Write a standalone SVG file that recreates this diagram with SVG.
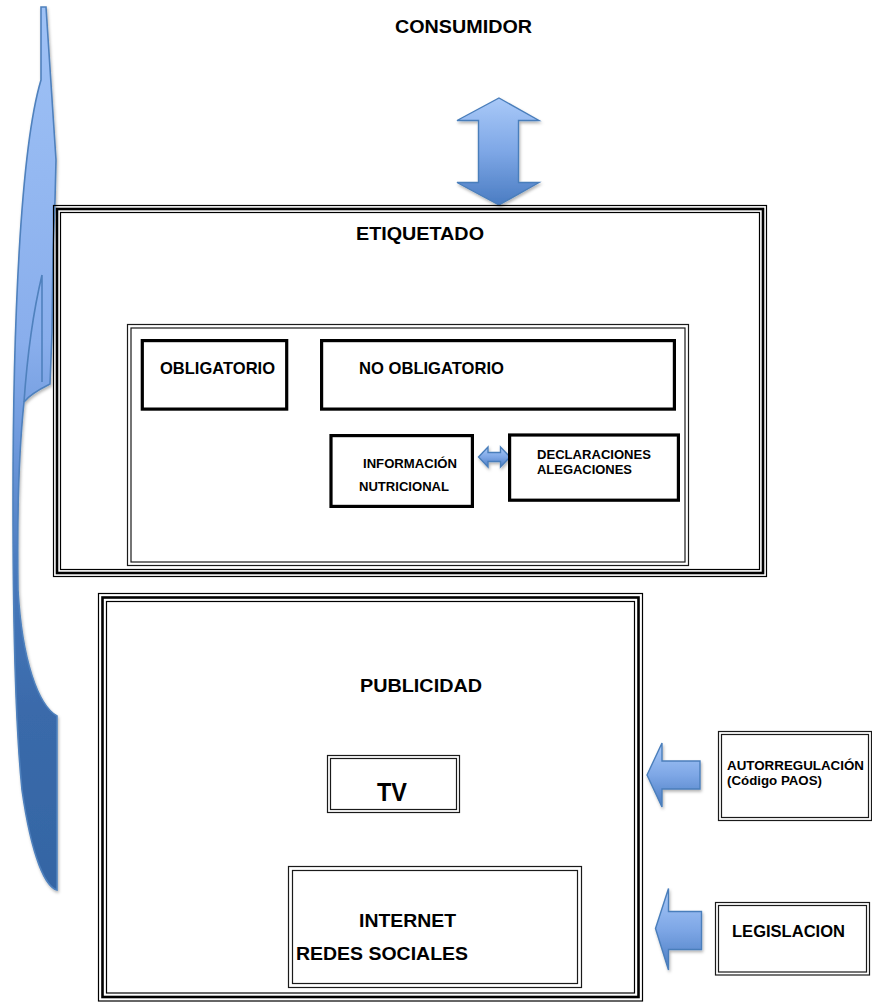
<svg xmlns="http://www.w3.org/2000/svg" width="872" height="1005" viewBox="0 0 872 1005">
<defs>
<style>
.t{font-family:"Liberation Sans",Arial,sans-serif;font-weight:bold;fill:#000}
.thick{fill:#fff;stroke:#000;stroke-width:3.2}
.dbl{fill:none;stroke:#1a1a1a;stroke-width:1.2}
.tri1{fill:none;stroke:#000;stroke-width:1.2}
.tri2{fill:none;stroke:#000;stroke-width:2.6}
.barrow{stroke:#4a7ebb;stroke-width:1.4;stroke-linejoin:miter}
</style>
<linearGradient id="gV" x1="0" y1="0" x2="0" y2="1">
<stop offset="0" stop-color="#a9c9f8"/>
<stop offset="0.5" stop-color="#7ea7e6"/>
<stop offset="1" stop-color="#4a7cc2"/>
</linearGradient>
<linearGradient id="gBig" gradientUnits="userSpaceOnUse" x1="0" y1="7" x2="0" y2="890">
<stop offset="0" stop-color="#9fc2f6"/>
<stop offset="0.38" stop-color="#89aeec"/>
<stop offset="0.5" stop-color="#6d98db"/>
<stop offset="0.65" stop-color="#4677bb"/>
<stop offset="0.8" stop-color="#3a6aaa"/>
<stop offset="1" stop-color="#3465a4"/>
</linearGradient>
<filter id="sh" x="-30%" y="-30%" width="160%" height="160%">
<feDropShadow dx="1" dy="2" stdDeviation="1.5" flood-color="#000" flood-opacity="0.3"/>
</filter>
</defs>

<g id="curved-arrow" filter="url(#sh)">
<path d="M41,7 L46,7 L56,160 L55,200 L53,250 L52,333 L50,384 C42,388 30,394 24,402 C19,450 17,520 18,590 C22,660 38,705 57,716 L57,890 C46,887 32,860 22,790 C15,720 13,620 13,500 C13,330 20,150 41,80 Z" fill="url(#gBig)" stroke="#4f81bd" stroke-width="1.6"/>
<path d="M42,275 L42,382 M42,275 C36,300 28,345 24,402" fill="none" stroke="#4f81bd" stroke-width="1.6"/>
</g>

<g id="consumidor">
<text class="t" x="395" y="33" font-size="18.5" textLength="137" lengthAdjust="spacingAndGlyphs">CONSUMIDOR</text>
</g>

<g id="connectors">
<path class="barrow" filter="url(#sh)" fill="url(#gV)" d="M499,98 L539,120.5 L518.5,120.5 L518.5,182.5 L539,182.5 L499,205 L457,182.5 L478.5,182.5 L478.5,120.5 L457,120.5 Z"/>
<path class="barrow" filter="url(#sh)" fill="url(#gV)" stroke-width="1" d="M478.5,457 L488,447 L488,452.5 L500.5,452.5 L500.5,447 L510,457 L500.5,467 L500.5,461.5 L488,461.5 L488,467 Z"/>
<path class="barrow" filter="url(#sh)" fill="url(#gV)" d="M647,775 L662,743 L662,761 L700,761 L700,789 L662,789 L662,807 Z"/>
<path class="barrow" filter="url(#sh)" fill="url(#gV)" d="M655.5,928.5 L668.5,888.5 L668.5,911.5 L701.5,911.5 L701.5,949.5 L668.5,949.5 L668.5,970 Z"/>
</g>

<g id="etiquetado">
<rect class="tri1" x="53.5" y="205.5" width="713" height="371"/>
<rect class="tri2" x="57" y="209" width="706" height="364"/>
<rect class="tri1" x="60.5" y="212.5" width="699" height="357"/>
<text class="t" x="356" y="240" font-size="18" textLength="128" lengthAdjust="spacingAndGlyphs">ETIQUETADO</text>
</g>

<g id="contenedor">
<rect class="dbl" x="127.5" y="324.5" width="561" height="241"/>
<rect class="dbl" x="131" y="328" width="554" height="234"/>
</g>

<g id="obligatorio">
<rect class="thick" x="142.3" y="340.6" width="144.4" height="68.5"/>
<text class="t" x="160" y="373.5" font-size="16.3" textLength="115" lengthAdjust="spacingAndGlyphs">OBLIGATORIO</text>
</g>

<g id="no-obligatorio">
<rect class="thick" x="321.6" y="340.6" width="352.8" height="68.5"/>
<text class="t" x="359" y="374" font-size="16.3" textLength="145" lengthAdjust="spacingAndGlyphs">NO OBLIGATORIO</text>
</g>

<g id="informacion">
<rect class="thick" x="331" y="435.6" width="141.4" height="70.8"/>
<text class="t" x="363" y="468" font-size="13" textLength="94" lengthAdjust="spacingAndGlyphs">INFORMACIÓN</text>
<text class="t" x="359" y="491" font-size="13" textLength="90" lengthAdjust="spacingAndGlyphs">NUTRICIONAL</text>
</g>

<g id="declaraciones">
<rect class="thick" x="509.6" y="435" width="168.8" height="65.2"/>
<text class="t" x="537" y="459.3" font-size="13" textLength="114" lengthAdjust="spacingAndGlyphs">DECLARACIONES</text>
<text class="t" x="537" y="473.5" font-size="13" textLength="95" lengthAdjust="spacingAndGlyphs">ALEGACIONES</text>
</g>

<g id="publicidad">
<rect class="tri1" x="98.5" y="593.5" width="544" height="407.5"/>
<rect class="tri2" x="102.5" y="597.5" width="536" height="399.5"/>
<rect class="tri1" x="106.5" y="601.5" width="528" height="391.5"/>
<text class="t" x="360" y="692" font-size="19" textLength="122" lengthAdjust="spacingAndGlyphs">PUBLICIDAD</text>
</g>

<g id="tv">
<rect class="dbl" x="327.5" y="755.5" width="132" height="57"/>
<rect class="dbl" x="330.5" y="758.5" width="126" height="51"/>
<text class="t" x="377" y="801" font-size="25" textLength="30" lengthAdjust="spacingAndGlyphs">TV</text>
</g>

<g id="internet">
<rect class="dbl" x="288.5" y="866.5" width="293" height="121"/>
<rect class="dbl" x="292.5" y="870.5" width="285" height="113"/>
<text class="t" x="359" y="927" font-size="18.5" textLength="97" lengthAdjust="spacingAndGlyphs">INTERNET</text>
<text class="t" x="296" y="960" font-size="18.5" textLength="172" lengthAdjust="spacingAndGlyphs">REDES SOCIALES</text>
</g>

<g id="autorregulacion">
<rect class="dbl" x="718.5" y="731.5" width="153" height="89"/>
<rect class="dbl" x="721.5" y="734.5" width="147" height="83"/>
<text class="t" x="727" y="770" font-size="13.3" textLength="137" lengthAdjust="spacingAndGlyphs">AUTORREGULACIÓN</text>
<text class="t" x="727" y="785" font-size="13.3" textLength="95" lengthAdjust="spacingAndGlyphs">(Código PAOS)</text>
</g>

<g id="legislacion">
<rect class="dbl" x="715.5" y="902.5" width="154" height="72.5"/>
<rect class="dbl" x="718.5" y="905.5" width="148" height="66.5"/>
<text class="t" x="732" y="937" font-size="16.5" textLength="113" lengthAdjust="spacingAndGlyphs">LEGISLACION</text>
</g>
</svg>
